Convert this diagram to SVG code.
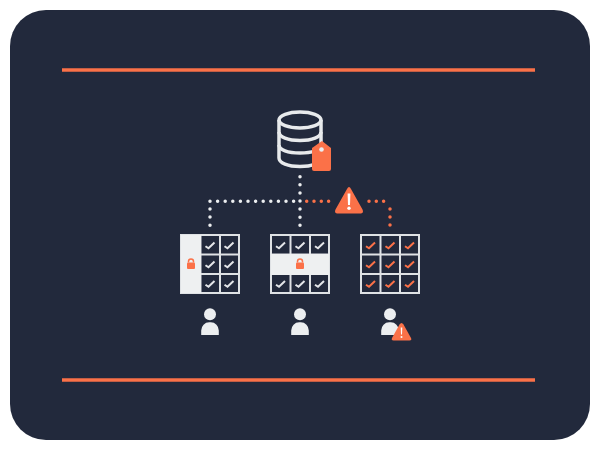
<svg xmlns="http://www.w3.org/2000/svg" width="600" height="450" viewBox="0 0 600 450">
<style>
.rule{stroke:#fb7148;stroke-width:3.500;fill:none}
.wd{stroke:#eceef0;stroke-width:3.500;stroke-linecap:round;stroke-dasharray:0 7.6;fill:none}
.wv{stroke:#eceef0;stroke-width:3.500;stroke-linecap:round;stroke-dasharray:0 8.1;fill:none}
.od{stroke:#fb7148;stroke-width:3.500;stroke-linecap:round;stroke-dasharray:0 7.3;fill:none}
.ov{stroke:#fb7148;stroke-width:3.500;stroke-linecap:round;stroke-dasharray:0 8;fill:none}
.db{stroke:#e8eaec;stroke-width:3.500;fill:none}
.grid{stroke:#dfe2e5;stroke-width:2;fill:none}
.ck{stroke:#e4e6e9;stroke-width:2;fill:none}
.cko{stroke:#fb7148;stroke-width:2;fill:none}
.or{fill:#fb7148}
.lt{fill:#eceef0}
</style>
<defs>
<path id="check" d="M-4.500 1.200L-1.500 3.300L4.500 -2.500"/>
<g id="lock"><rect x="-4" y="-1.500" width="8" height="6.500" rx="1" class="or"/><path d="M-2.500 -1.500V-2.500A2.500 2.500 0 0 1 2.500 -2.500V-1.500" stroke="#fb7148" stroke-width="1.500" fill="none"/></g>
<g id="user"><circle cx="0" cy="-5.700" r="6" class="lt"/><path d="M-8.800 15V10.500A8 8.200 0 0 1 -0.800 2.300H0.800A8 8.200 0 0 1 8.800 10.500V15Z" class="lt"/></g>
</defs>
<rect x="10" y="10" width="580" height="430" rx="36" fill="#22293c"/>
<g id="connectors">
<path class="wd" d="M210 201.300H300"/>
<path class="wv" d="M210 209V226"/>
<path class="wv" d="M300 176.700V226"/>
<path class="od" d="M306.700 201.300H329"/>
<path class="od" d="M369 201.300H390"/>
<path class="ov" d="M390 209V226"/>
</g>
<g id="rule-top"><path class="rule" d="M62 70H535"/></g>
<g id="rule-bottom"><path class="rule" d="M62 380H535"/></g>
<g id="database">
<ellipse cx="300" cy="120" rx="21" ry="8" class="db"/>
<path class="db" d="M279 120V158C279 163 288 166.500 300 166.500C312 166.500 321 163 321 158V120"/>
<path class="db" d="M279 132C279 137 288 140.500 300 140.500C312 140.500 321 137 321 132"/>
<path class="db" d="M279 145C279 150 288 153 300 153C312 153 321 150 321 145"/>
<path class="or" d="M322 141L331 148V169Q331 171 329 171H314Q312 171 312 169V148Z"/>
<circle cx="321.500" cy="149.500" r="2.300" class="lt"/>
</g>
<g id="warning">
<path class="or" d="M349 187Q350 187 351 189L362.500 209.500Q364 213 361 213.500H337Q334 213 335.500 209.500L347 189Q348 187 349 187Z"/>
<path d="M347.600 193.500H350.400L350 205H348Z" fill="#fff"/>
<circle cx="349" cy="208.200" r="1.700" fill="#fff"/>
</g>
<g id="table-left">
<rect x="180" y="234" width="60" height="60" fill="#22293c"/>
<g transform="translate(180 234)"><rect x="1" y="1" width="58" height="58" class="grid"/><path d="M20.500 1V59M40 1V59M20.500 20.500H59M20.500 40H59" class="grid"/></g>
<rect x="181" y="235" width="20" height="58" fill="#eef0f1"/>
<use href="#lock" x="191" y="264"/>
<g class="ck">
<use href="#check" x="210" y="245"/><use href="#check" x="229" y="245"/>
<use href="#check" x="210" y="264"/><use href="#check" x="229" y="264"/>
<use href="#check" x="210" y="283.500"/><use href="#check" x="229" y="283.500"/>
</g>
</g>
<g id="table-middle">
<rect x="270" y="234" width="60" height="60" fill="#22293c"/>
<g transform="translate(270 234)"><rect x="1" y="1" width="58" height="58" class="grid"/><path d="M20.500 1V20M40 1V20M20.500 40V59M40 40V59M1 20.500H59M1 40H59" class="grid"/></g>
<rect x="271" y="254" width="58" height="21" fill="#eef0f1"/>
<use href="#lock" x="300" y="264"/>
<g class="ck">
<use href="#check" x="280.500" y="245"/><use href="#check" x="300" y="245"/><use href="#check" x="319.500" y="245"/>
<use href="#check" x="280.500" y="283.500"/><use href="#check" x="300" y="283.500"/><use href="#check" x="319.500" y="283.500"/>
</g>
</g>
<g id="table-right">
<rect x="360" y="234" width="60" height="60" fill="#22293c"/>
<g transform="translate(360 234)"><rect x="1" y="1" width="58" height="58" class="grid"/><path d="M20.500 1V59M40 1V59M1 20.500H59M1 40H59" class="grid"/></g>
<g class="cko">
<use href="#check" x="370.500" y="245"/><use href="#check" x="390" y="245"/><use href="#check" x="409.500" y="245"/>
<use href="#check" x="370.500" y="264"/><use href="#check" x="390" y="264"/><use href="#check" x="409.500" y="264"/>
<use href="#check" x="370.500" y="283.500"/><use href="#check" x="390" y="283.500"/><use href="#check" x="409.500" y="283.500"/>
</g>
</g>
<g id="user-left"><use href="#user" x="210" y="320"/></g>
<g id="user-middle"><use href="#user" x="300" y="320"/></g>
<g id="user-right"><use href="#user" x="390" y="320"/>
<path class="or" d="M401.500 323Q402.500 323 403.500 324.500L411 338Q412 340.500 409.500 340.500H393.500Q391 340.500 392 338L399.500 324.500Q400.500 323 401.500 323Z"/>
<path d="M400.700 327.500H402.300L402 334.500H401Z" fill="#fff"/><circle cx="401.500" cy="337" r="1" fill="#fff"/>
</g>
</svg>
